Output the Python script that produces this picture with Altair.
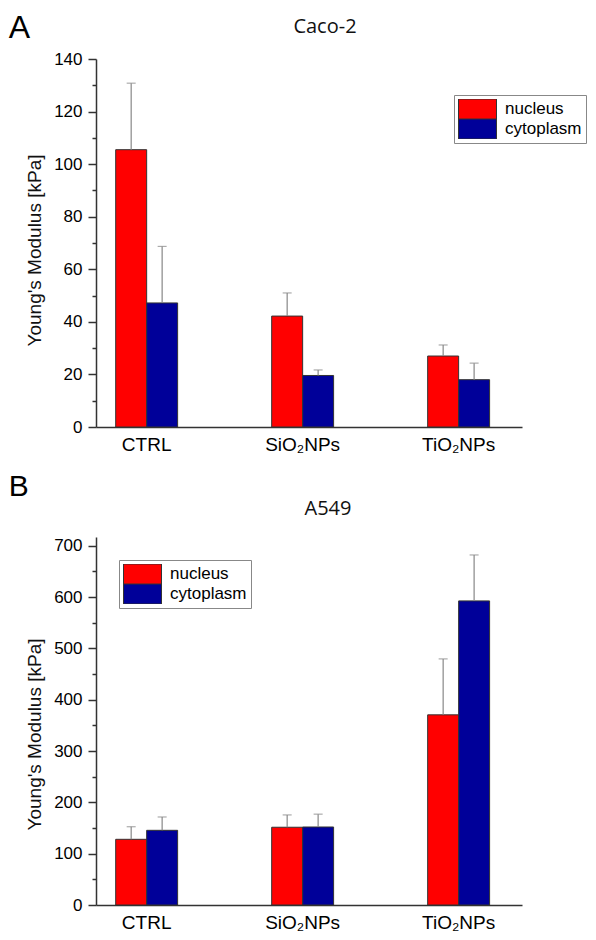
import altair as alt
import pandas as pd

treatments = ["CTRL", "SiO₂NPs", "TiO₂NPs"]
compartments = ["nucleus", "cytoplasm"]
bar_colors = ["#ff0000", "#000099"]

caco_nucleus = [105.5, 42.2, 27.0]
caco_nucleus_sd = [25.3, 8.8, 4.2]
caco_cytoplasm = [47.2, 19.6, 18.0]
caco_cytoplasm_sd = [21.5, 2.1, 6.3]

a549_nucleus = [128.0, 151.5, 370.5]
a549_nucleus_sd = [24.5, 24.0, 109.0]
a549_cytoplasm = [145.5, 152.0, 592.5]
a549_cytoplasm_sd = [26.0, 25.0, 89.5]

caco_ticks = list(range(0, 141, 10))
a549_ticks = list(range(0, 701, 50))

FONT = "Liberation Sans"


def frame(nuc, nuc_sd, cyt, cyt_sd):
    rows = []
    for i, t in enumerate(treatments):
        rows.append(dict(treatment=t, compartment="nucleus", mean=nuc[i], top=nuc[i] + nuc_sd[i]))
        rows.append(dict(treatment=t, compartment="cytoplasm", mean=cyt[i], top=cyt[i] + cyt_sd[i]))
    return pd.DataFrame(rows)


def panel(df, title, ymax, ticks, major, lx, ly, tdx, toff, ty):
    x_axis = alt.Axis(labelAngle=0, ticks=False, labelFontSize=19, labelPadding=8,
                      labelColor="black", labelFont=FONT, domainColor="#333",
                      domainWidth=1.5, title=None)
    x = alt.X("treatment:N", sort=treatments, title=None,
              scale=alt.Scale(paddingInner=0.603, paddingOuter=0.167, align=0.378),
              axis=x_axis)
    xo = alt.XOffset("compartment:N", sort=compartments,
                     scale=alt.Scale(paddingInner=0, paddingOuter=0))
    y_axis = alt.Axis(values=ticks,
                      labelExpr=f"datum.value % {major} == 0 ? datum.label : ''",
                      tickSize={"condition": {"test": f"datum.value % {major} == 0", "value": 8}, "value": 4},
                      labelOverlap=False, labelFontSize=17, labelFont=FONT, labelColor="black",
                      labelPadding=6, tickColor="#333", tickWidth=1.5, domainColor="#333",
                      domainWidth=1.5, grid=False, title="Young's Modulus [kPa]",
                      titleFont=FONT, titleFontSize=19, titleFontWeight="normal",
                      titleColor="#111", titlePadding=9, titleY=ty)
    yscale = alt.Scale(domain=[0, ymax], nice=False, zero=True)
    bars = alt.Chart(df).mark_bar(stroke="#333", strokeWidth=1).encode(
        x=x, xOffset=xo,
        y=alt.Y("mean:Q", scale=yscale, axis=y_axis),
        color=alt.Color("compartment:N", sort=compartments,
                        scale=alt.Scale(domain=compartments, range=bar_colors),
                        legend=alt.Legend(title=None, orient="none", legendX=lx, legendY=ly,
                                          symbolType="M-1.9,-1H1.9V1H-1.9Z", symbolSize=400,
                                          symbolStrokeColor="#333", symbolStrokeWidth=1,
                                          symbolOffset=9, labelOffset=17, labelFontSize=17,
                                          labelFont=FONT, labelColor="black", strokeColor="#888",
                                          padding=4, rowPadding=0, clipHeight=20,
                                          fillColor="white", symbolOpacity=1)),
    )
    err = alt.Chart(df).mark_rule(color="#888", strokeWidth=1.2).encode(
        x=x, xOffset=xo,
        y=alt.Y("mean:Q", scale=yscale, axis=y_axis), y2="top:Q")
    caps = alt.Chart(df).mark_tick(color="#888", thickness=1.2, size=9).encode(
        x=x, xOffset=xo,
        y=alt.Y("top:Q", scale=yscale, axis=y_axis))
    return alt.layer(bars, err, caps).properties(
        width=426, height=368,
        title=alt.Title(title, font="Open Sans", fontSize=20, fontWeight="normal",
                        color="#111", anchor="middle", frame="group", dx=tdx, offset=toff))


panel_a = panel(frame(caco_nucleus, caco_nucleus_sd, caco_cytoplasm, caco_cytoplasm_sd),
                "Caco-2", 140, caco_ticks, 20, 358, 36, 16, 13, 191)
panel_b = panel(frame(a549_nucleus, a549_nucleus_sd, a549_cytoplasm, a549_cytoplasm_sd),
                "A549", 717, a549_ticks, 100, 23, 23, 19, 18, 197)

group_a = alt.vconcat(panel_a, title=alt.Title("A", font=FONT, fontSize=32, fontWeight="normal",
                                                color="black", anchor="start", frame="bounds",
                                                dx=-17, offset=-28))
group_b = alt.vconcat(panel_b, title=alt.Title("B", font=FONT, fontSize=30, fontWeight="normal",
                                                color="black", anchor="start", frame="bounds",
                                                dx=-17, offset=-3))

chart = alt.vconcat(group_a, group_b, spacing=17).resolve_legend(
    color="independent"
).resolve_scale(color="independent").properties(
    padding={"left": 0, "top": 4, "right": 0, "bottom": 0},
    background="white",
).configure_view(strokeWidth=0, stroke="transparent")

chart.save("out.html", embed_options={"renderer": "svg", "actions": False})
